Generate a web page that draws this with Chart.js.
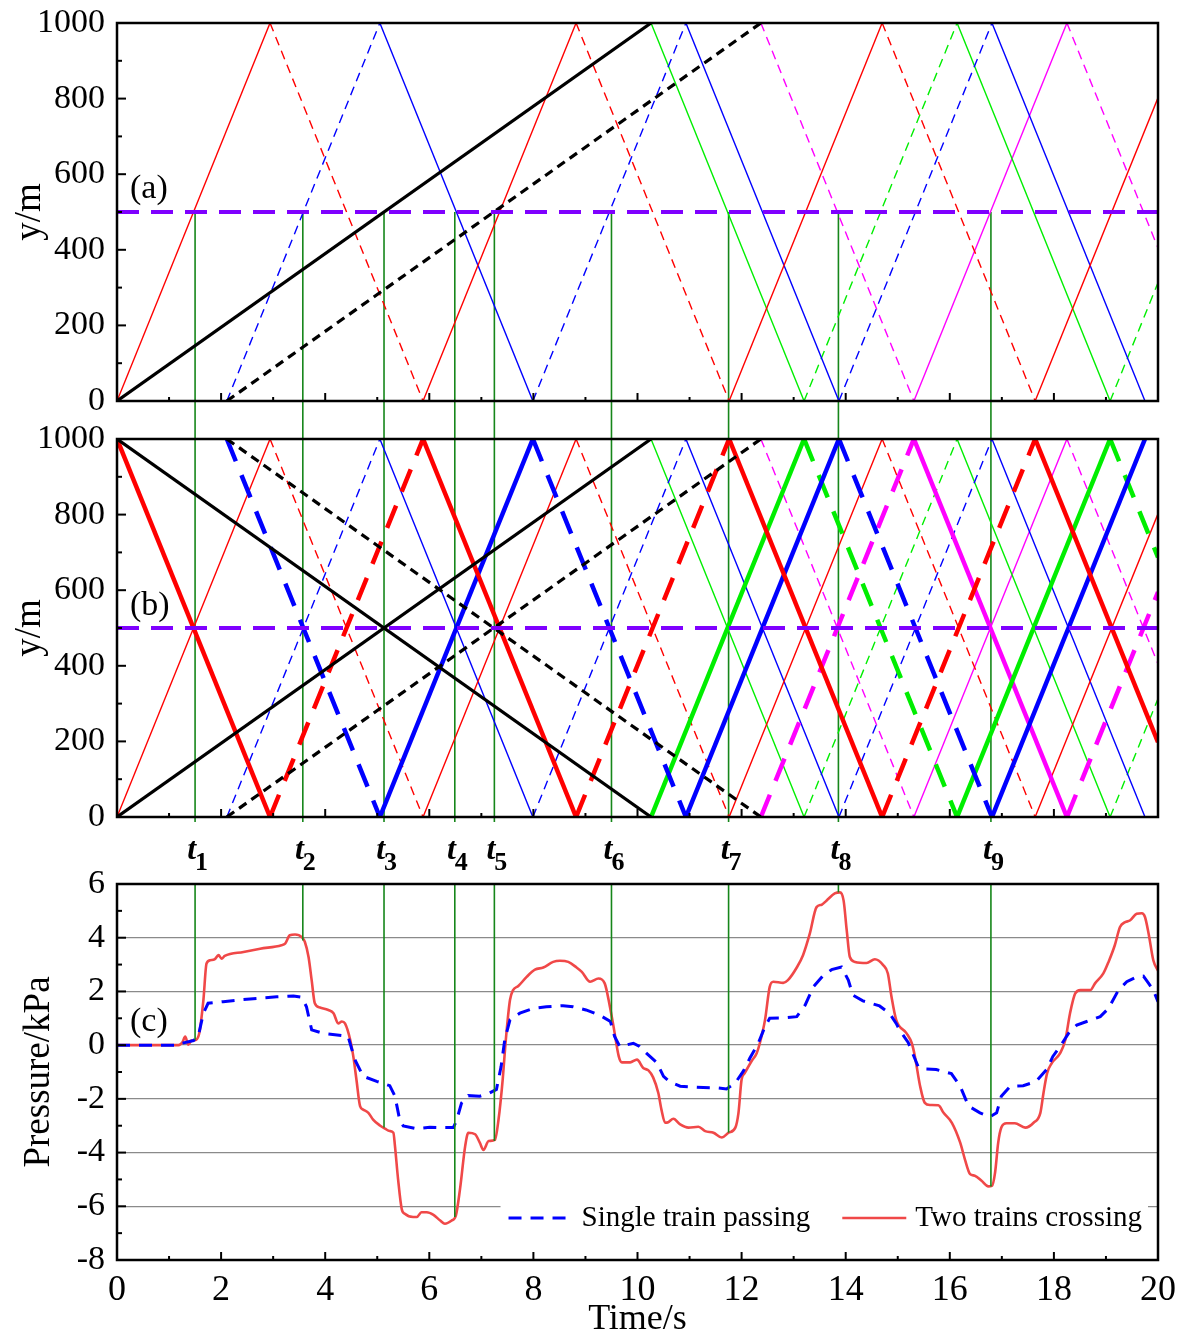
<!DOCTYPE html>
<html>
<head>
<meta charset="utf-8">
<script src="https://cdn.jsdelivr.net/npm/chart.js@4.4.1/dist/chart.umd.min.js"></script>
<style>
  html, body { margin: 0; padding: 0; background: #fff; }
  #wrap { position: relative; width: 1192px; height: 1338px; background: #fff; overflow: hidden; }
  canvas { position: absolute; left: 0; }
</style>
</head>
<body>
<div id="wrap">
  <canvas id="chartA" width="1192" height="420" style="top:0"></canvas>
  <canvas id="chartB" width="1192" height="420" style="top:420px"></canvas>
  <canvas id="chartC" width="1192" height="512" style="top:826px"></canvas>
</div>
<script>
const serif = "'Liberation Serif', 'Times New Roman', Times, serif";

// crossing instants t1..t9 and the pressure read at them
const crossTimes = [1.50, 3.57, 5.13, 6.49, 7.25, 9.50, 11.75, 13.86, 16.79];
const crossNames = ['1', '2', '3', '4', '5', '6', '7', '8', '9'];
const crossPressure = [0.20, 3.90, -3.07, -6.40, -3.57, 0.88, -3.26, 5.69, -5.26];

// measuring point at y = 500 m
const monitorLine = [[0, 500], [20, 500]];

// train 1 enters at y = 0, train 2 at y = 1000 (head, tail)
const head1 = [[0, 0], [10.26, 1000]];
const tail1 = [[2.11, 0], [12.37, 1000]];
const head2 = [[0, 1000], [10.26, 0]];
const tail2 = [[2.11, 1000], [12.37, 0]];

// pressure waves of train 1, vertices at every portal reflection
const red1 = [[0, 0], [2.94, 1000], [5.88, 0], [8.82, 1000], [11.76, 0], [14.70, 1000], [17.64, 0], [20, 802]];
const blue1 = [[2.11, 0], [5.05, 1000], [7.99, 0], [10.93, 1000], [13.87, 0], [16.81, 1000], [19.75, 0]];
const green1 = [[10.26, 1000], [13.20, 0], [16.14, 1000], [19.08, 0], [20, 313]];
const magenta1 = [[12.37, 1000], [15.31, 0], [18.25, 1000], [20, 405]];

// pressure waves of train 2
const red2 = [[0, 1000], [2.94, 0], [5.88, 1000], [8.82, 0], [11.76, 1000], [14.70, 0], [17.64, 1000], [20, 198]];
const blue2 = [[2.11, 1000], [5.05, 0], [7.99, 1000], [10.93, 0], [13.87, 1000], [16.81, 0], [19.75, 1000]];
const green2 = [[10.26, 0], [13.20, 1000], [16.14, 0], [19.08, 1000], [20, 687]];
const magenta2 = [[12.37, 0], [15.31, 1000], [18.25, 0], [20, 595]];

// pressure at the measuring point, [time s, kPa]
const singlePassing = [
  [0, 0], [1.18, 0], [1.25, 0.07], [1.47, 0.17], [1.56, 0.32], [1.66, 1.19], [1.75, 1.56], [2.04, 1.62],
  [2.43, 1.70], [3.07, 1.80], [3.39, 1.83], [3.55, 1.78], [3.64, 1.43], [3.74, 0.57], [3.96, 0.44],
  [4.35, 0.35], [4.44, 0.32], [4.57, -0.54], [4.73, -1.16], [4.99, -1.35], [5.18, -1.47], [5.24, -1.51],
  [5.34, -1.90], [5.43, -2.77], [5.50, -3.01], [5.75, -3.11], [6.01, -3.06], [6.21, -3.07], [6.46, -3.07],
  [6.52, -2.83], [6.62, -2.15], [6.75, -1.88], [6.97, -1.90], [7.16, -1.78], [7.29, -1.65], [7.38, -0.79],
  [7.45, 0.20], [7.55, 0.94], [7.74, 1.19], [8.00, 1.37], [8.25, 1.43], [8.57, 1.47], [8.76, 1.43],
  [9.01, 1.31], [9.27, 1.12], [9.48, 0.88], [9.56, 0.32], [9.66, -0.05], [9.92, 0.07], [10.04, -0.05],
  [10.17, -0.30], [10.37, -0.65], [10.50, -1.16], [10.63, -1.38], [10.82, -1.53], [11.14, -1.57],
  [11.52, -1.59], [11.71, -1.63], [11.87, -1.43], [12.03, -0.98], [12.16, -0.48], [12.32, 0.07],
  [12.45, 0.69], [12.54, 1.00], [12.80, 1.01], [13.06, 1.06], [13.22, 1.49], [13.38, 2.17], [13.57, 2.60],
  [13.73, 2.81], [13.92, 2.91], [14.05, 2.42], [14.14, 1.86], [14.33, 1.65], [14.65, 1.46], [14.84, 1.19],
  [14.97, 0.81], [15.04, 0.55], [15.20, 0.10], [15.39, -0.79], [15.52, -0.89], [15.74, -0.91],
  [16.03, -1.06], [16.20, -1.53], [16.36, -2.27], [16.58, -2.52], [16.77, -2.67], [16.90, -2.52],
  [16.99, -1.90], [17.16, -1.53], [17.41, -1.51], [17.66, -1.35], [17.86, -0.91], [17.98, -0.42],
  [18.12, -0.05], [18.28, 0.44], [18.44, 0.75], [18.63, 0.88], [18.89, 1.06], [19.05, 1.37],
  [19.24, 2.05], [19.40, 2.36], [19.56, 2.51], [19.72, 2.57], [19.82, 2.30], [19.91, 2.05], [20.00, 1.62]
];
const twoCrossing = [
  [0, 0], [1.18, 0], [1.26, 0.12], [1.31, 0.32], [1.37, 0.02], [1.43, 0.17], [1.52, 0.20], [1.58, 0.44],
  [1.66, 1.68], [1.72, 3.04], [1.79, 3.16], [1.88, 3.20], [1.95, 3.35], [2.01, 3.22], [2.07, 3.32],
  [2.43, 3.47], [2.75, 3.59], [3.16, 3.72], [3.23, 3.78], [3.32, 4.09], [3.42, 4.12], [3.55, 4.02],
  [3.61, 3.84], [3.68, 3.28], [3.74, 2.42], [3.80, 1.56], [3.90, 1.40], [4.06, 1.31], [4.16, 1.19],
  [4.25, 0.81], [4.32, 0.88], [4.38, 0.81], [4.48, 0.20], [4.54, -0.42], [4.60, -1.28], [4.67, -2.27],
  [4.73, -2.40], [4.83, -2.52], [4.92, -2.77], [5.05, -2.99], [5.15, -3.11], [5.24, -3.20], [5.31, -3.26],
  [5.34, -3.75], [5.40, -4.99], [5.47, -6.10], [5.53, -6.28], [5.69, -6.40], [5.76, -6.40], [5.85, -6.22],
  [5.95, -6.22], [6.08, -6.32], [6.21, -6.53], [6.30, -6.65], [6.43, -6.53], [6.51, -6.35], [6.59, -5.36],
  [6.69, -3.75], [6.75, -3.26], [6.88, -3.32], [6.97, -3.63], [7.04, -3.90], [7.14, -3.57], [7.26, -3.53],
  [7.33, -2.77], [7.41, -1.28], [7.47, 0.20], [7.55, 1.68], [7.61, 2.05], [7.71, 2.20], [7.87, 2.54],
  [8.03, 2.81], [8.19, 2.89], [8.38, 3.10], [8.51, 3.14], [8.67, 3.10], [8.83, 2.89], [8.93, 2.73],
  [9.09, 2.36], [9.25, 2.48], [9.37, 2.30], [9.47, 1.43], [9.54, 0.69], [9.64, -0.42], [9.70, -0.64],
  [9.86, -0.64], [9.99, -0.54], [10.11, -0.85], [10.21, -0.94], [10.30, -1.20], [10.40, -1.78],
  [10.46, -2.40], [10.53, -2.89], [10.59, -2.87], [10.69, -2.74], [10.82, -2.95], [10.98, -3.07],
  [11.17, -3.04], [11.30, -3.20], [11.46, -3.26], [11.62, -3.44], [11.75, -3.26], [11.88, -3.07],
  [11.94, -2.52], [12.00, -1.28], [12.06, -1.04], [12.19, -0.60], [12.29, -0.30], [12.35, 0.07],
  [12.45, 0.94], [12.54, 2.17], [12.61, 2.36], [12.80, 2.32], [12.89, 2.42], [13.06, 2.89], [13.18, 3.35],
  [13.31, 4.15], [13.44, 5.14], [13.54, 5.23], [13.63, 5.38], [13.79, 5.65], [13.89, 5.69], [13.96, 5.38],
  [14.02, 4.27], [14.08, 3.28], [14.18, 3.10], [14.40, 3.06], [14.56, 3.20], [14.72, 2.98], [14.81, 2.67],
  [14.88, 1.80], [14.97, 0.94], [15.17, 0.44], [15.27, 0.07], [15.33, -0.42], [15.43, -1.53],
  [15.52, -2.15], [15.62, -2.23], [15.78, -2.24], [15.88, -2.52], [16.04, -2.89], [16.20, -3.63],
  [16.29, -4.25], [16.39, -4.80], [16.48, -4.86], [16.61, -5.05], [16.74, -5.26], [16.81, -5.24],
  [16.87, -4.74], [16.93, -3.63], [16.99, -3.07], [17.09, -2.91], [17.25, -2.91], [17.45, -3.07],
  [17.61, -2.89], [17.74, -2.52], [17.80, -1.78], [17.87, -1.04], [17.96, -0.67], [18.12, -0.30],
  [18.22, 0.20], [18.31, 1.19], [18.41, 1.93], [18.51, 2.05], [18.70, 2.05], [18.79, 2.30], [18.95, 2.67],
  [19.05, 3.10], [19.17, 3.72], [19.27, 4.40], [19.37, 4.58], [19.46, 4.64], [19.59, 4.89], [19.69, 4.91],
  [19.75, 4.77], [19.82, 4.15], [19.91, 3.16], [20.00, 2.77]
];

// ---- styles ----
const RED = '#ff0000', BLUE = '#0000ff', GREEN = '#00ee00', MAGENTA = '#ff00ff';
const thinDash = [9, 6];
const thickDash = [24, 15];
const blackDash = [9, 6];

const xy = arr => arr.map(p => ({x: p[0], y: p[1]}));

function path(data, color, width, dash) {
  return {
    data: xy(data), showLine: true, borderColor: color, borderWidth: width,
    borderDash: dash || [], pointRadius: 0, tension: 0, fill: false
  };
}

// alternate solid/dashed on every reflection
function wave(data, color, width, dash, firstDashed) {
  const ds = path(data, color, width);
  ds.segment = {
    borderDash: c => ((c.p0DataIndex % 2 === 0) === firstDashed ? dash : [])
  };
  return ds;
}

const monitorDs = () => path(monitorLine, '#7f00ff', 4, [22, 12]);

const train1Waves = () => [
  wave(red1, RED, 1.4, thinDash, false),
  wave(blue1, BLUE, 1.4, thinDash, true),
  wave(green1, GREEN, 1.4, thinDash, false),
  wave(magenta1, MAGENTA, 1.4, thinDash, true)
];

const train2Waves = () => [
  wave(red2, RED, 4.5, thickDash, false),
  wave(blue2, BLUE, 4.5, thickDash, true),
  wave(green2, GREEN, 4.5, thickDash, false),
  wave(magenta2, MAGENTA, 4.5, thickDash, true)
];

// ---- plugins ----
function drawLine(ctx, x0, y0, x1, y1) {
  ctx.beginPath();
  ctx.moveTo(x0, y0);
  ctx.lineTo(x1, y1);
  ctx.stroke();
}

const framePlugin = {
  id: 'frame',
  afterDraw(chart, args, o) {
    const {ctx, chartArea: a, scales: {x, y}} = chart;
    ctx.save();
    ctx.strokeStyle = '#000';
    ctx.lineWidth = 2;
    for (let v = x.min; v <= x.max; v += 1) {
      const px = x.getPixelForValue(v);
      drawLine(ctx, px, a.bottom, px, a.bottom - (v % 2 === 0 ? 8 : 4));
    }
    for (let v = y.min; v <= y.max; v += o.yMinor) {
      const py = y.getPixelForValue(v);
      const major = Math.abs((v - y.min) % o.yMajor) < 1e-6;
      drawLine(ctx, a.left, py, a.left + (major ? 9 : 5), py);
    }
    ctx.lineWidth = 2.5;
    ctx.strokeRect(a.left, a.top, a.right - a.left, a.bottom - a.top);

    ctx.fillStyle = '#000';
    ctx.font = '34px ' + serif;
    ctx.textAlign = 'left';
    ctx.textBaseline = 'middle';
    ctx.fillText(o.label, a.left + 13, y.getPixelForValue(o.labelAt));
    ctx.restore();
  }
};

function drawCross(chart, o) {
  const {ctx, chartArea: a, scales: {x, y}} = chart;
  ctx.save();
  ctx.strokeStyle = '#16861a';
  ctx.lineWidth = 1.6;
  crossTimes.forEach((t, i) => {
    const px = x.getPixelForValue(t);
    let y0, y1;
    if (o.mode === 'a') {
      y0 = y.getPixelForValue(monitorLine[0][1]);
      y1 = chart.height;
    } else if (o.mode === 'b') {
      y0 = 0;
      y1 = a.bottom + 5;
    } else {
      y0 = a.top;
      y1 = y.getPixelForValue(crossPressure[i]);
    }
    drawLine(ctx, px, y0, px, y1);
    if (o.mode === 'c') {
      ctx.fillStyle = '#000';
      ctx.textBaseline = 'alphabetic';
      ctx.font = 'italic bold 32px ' + serif;
      ctx.textAlign = 'right';
      ctx.fillText('t', px + 1, a.top - 25);
      ctx.font = 'bold 26px ' + serif;
      ctx.textAlign = 'left';
      ctx.fillText(crossNames[i], px, a.top - 14);
    }
  });
  ctx.restore();
}

const crossPlugin = {
  id: 'cross',
  beforeDatasetsDraw(chart, args, o) { if (o.mode !== 'c') drawCross(chart, o); },
  afterDatasetsDraw(chart, args, o) { if (o.mode === 'c') drawCross(chart, o); }
};

const legendPlugin = {
  id: 'plegend',
  afterDatasetsDraw(chart, args, o) {
    if (!o.items) return;
    const {ctx, chartArea: a} = chart;
    ctx.save();
    ctx.font = '29px ' + serif;
    const widths = o.items.map(it => ctx.measureText(it.text).width);
    const sample = 64, gapS = 9, gapI = 32;
    const total = o.items.length * (sample + gapS) + widths.reduce((s, w) => s + w, 0) + gapI * (o.items.length - 1);
    let cx = a.right - 16 - total;
    const cy = a.bottom - 42;
    ctx.fillStyle = '#fff';
    ctx.fillRect(cx - 8, cy - 24, a.right - 10 - (cx - 8), 48);
    o.items.forEach((it, i) => {
      ctx.strokeStyle = it.color;
      ctx.lineWidth = it.width;
      ctx.setLineDash(it.dash);
      drawLine(ctx, cx, cy, cx + sample, cy);
      ctx.setLineDash([]);
      cx += sample + gapS;
      ctx.fillStyle = '#000';
      ctx.textAlign = 'left';
      ctx.textBaseline = 'middle';
      ctx.fillText(it.text, cx, cy);
      cx += widths[i] + gapI;
    });
    ctx.restore();
  }
};

// ---- charts ----
function options(cfg) {
  return {
    responsive: false,
    animation: false,
    events: [],
    layout: {padding: {left: 0, right: 34, top: cfg.top, bottom: 0}},
    plugins: {
      legend: {display: false},
      tooltip: {enabled: false},
      frame: cfg.frame,
      cross: cfg.cross,
      plegend: cfg.legend || {}
    },
    scales: {
      x: {
        type: 'linear', min: 0, max: 20,
        grid: {display: false, drawTicks: false},
        border: {display: false},
        ticks: {display: !!cfg.xTitle, stepSize: 2, color: '#000', padding: 9, maxRotation: 0,
          font: {family: serif, size: 36}},
        title: cfg.xTitle
          ? {display: true, text: cfg.xTitle, color: '#000', font: {family: serif, size: 36, lineHeight: 1}, padding: 0}
          : {display: false},
        afterFit: s => { s.height = cfg.xHeight; }
      },
      y: {
        type: 'linear', min: cfg.yMin, max: cfg.yMax,
        grid: cfg.grid
          ? {display: true, drawTicks: false, color: '#8a8a8a', lineWidth: 1.3}
          : {display: false, drawTicks: false},
        border: {display: false},
        ticks: {stepSize: cfg.yStep, color: '#000', padding: 12, font: {family: serif, size: 34},
          callback: v => String(v)},
        title: {display: true, text: cfg.yTitle, color: '#000', font: {family: serif, size: 37},
          padding: {top: cfg.yTitlePad, bottom: 0}},
        afterFit: s => {
          s.width = 117;
          s.paddingTop = 0;
          s.paddingBottom = 0;
        }
      }
    }
  };
}

new Chart(document.getElementById('chartA'), {
  type: 'scatter',
  data: {datasets: [
    monitorDs(),
    path(head1, '#000', 3.2),
    path(tail1, '#000', 3.2, blackDash),
    ...train1Waves()
  ]},
  options: options({
    top: 23, xHeight: 19, yMin: 0, yMax: 1000, yStep: 200, yTitle: 'y/m', yTitlePad: 8,
    frame: {yMinor: 100, yMajor: 200, label: '(a)', labelAt: 560},
    cross: {mode: 'a'}
  }),
  plugins: [framePlugin, crossPlugin]
});

new Chart(document.getElementById('chartB'), {
  type: 'scatter',
  data: {datasets: [
    monitorDs(),
    path(head1, '#000', 3.2),
    path(tail1, '#000', 3.2, blackDash),
    path(head2, '#000', 3.2),
    path(tail2, '#000', 3.2, blackDash),
    ...train2Waves(),
    ...train1Waves()
  ]},
  options: options({
    top: 19, xHeight: 23, yMin: 0, yMax: 1000, yStep: 200, yTitle: 'y/m', yTitlePad: 8,
    frame: {yMinor: 100, yMajor: 200, label: '(b)', labelAt: 558},
    cross: {mode: 'b'}
  }),
  plugins: [framePlugin, crossPlugin]
});

new Chart(document.getElementById('chartC'), {
  type: 'scatter',
  data: {datasets: [
    {
      data: xy(singlePassing), showLine: true, borderColor: '#0000ff', borderWidth: 3,
      borderDash: [13, 9], pointRadius: 0, tension: 0
    },
    {
      data: xy(twoCrossing), showLine: true, borderColor: '#f04848', borderWidth: 2.6,
      pointRadius: 0, cubicInterpolationMode: 'monotone'
    }
  ]},
  options: options({
    top: 58, xHeight: 78, yMin: -8, yMax: 6, yStep: 2, yTitle: 'Pressure/kPa', yTitlePad: 17,
    xTitle: 'Time/s', grid: true,
    frame: {yMinor: 1, yMajor: 2, label: '(c)', labelAt: 0.86},
    cross: {mode: 'c'},
    legend: {items: [
      {text: 'Single train passing', color: '#0000ff', width: 3, dash: [13, 9]},
      {text: 'Two trains crossing', color: '#f04848', width: 2.6, dash: []}
    ]}
  }),
  plugins: [framePlugin, crossPlugin, legendPlugin]
});
</script>
</body>
</html>
